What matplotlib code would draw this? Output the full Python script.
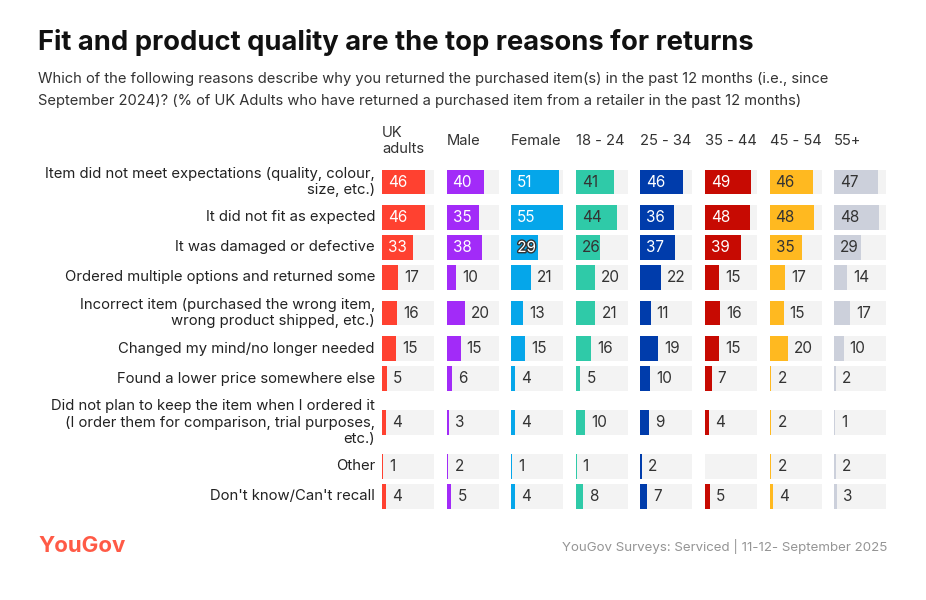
import matplotlib.pyplot as plt
import matplotlib.patheffects as pe
from matplotlib.transforms import offset_copy

plt.rcParams['font.family'] = ['Inter', 'DejaVu Sans']

# ---- data ----
groups = ['UK\nadults', 'Male', 'Female', '18 - 24', '25 - 34', '35 - 44', '45 - 54', '55+']
reasons = [
  'Item did not meet expectations (quality, colour,\nsize, etc.)',
  'It did not fit as expected',
  'It was damaged or defective',
  'Ordered multiple options and returned some',
  'Incorrect item (purchased the wrong item,\nwrong product shipped, etc.)',
  'Changed my mind/no longer needed',
  'Found a lower price somewhere else',
  'Did not plan to keep the item when I ordered it\n(I order them for comparison, trial purposes,\netc.)',
  'Other',
  "Don't know/Can't recall",
]
uk_adults = [46, 46, 33, 17, 16, 15, 5, 4, 1, 4]
male      = [40, 35, 38, 10, 20, 15, 6, 3, 2, 5]
female    = [51, 55, 29, 21, 13, 15, 4, 4, 1, 4]
age_18_24 = [41, 44, 26, 20, 21, 16, 5, 10, 1, 8]
age_25_34 = [46, 36, 37, 22, 11, 19, 10, 9, 2, 7]
age_35_44 = [49, 48, 39, 15, 16, 15, 7, 4, None, 5]
age_45_54 = [46, 48, 35, 17, 15, 20, 2, 2, 2, 4]
age_55    = [47, 48, 29, 14, 17, 10, 2, 1, 2, 3]
series = [uk_adults, male, female, age_18_24, age_25_34, age_35_44, age_45_54, age_55]

colors = ['#ff4130', '#a22bf8', '#05a6ea', '#2fcaa8', '#003cab', '#c70a02', '#ffb920', '#ccd0db']
inside_text = ['white', 'white', 'white', '#333333', 'white', 'white', '#333333', '#333333']

W, H = 926, 600
fig = plt.figure(figsize=(W / 100, H / 100), dpi=100)
fig.patch.set_facecolor('white')

# background axes in pixel units for the text
bg = fig.add_axes([0, 0, 1, 1])
bg.set_xlim(0, W)
bg.set_ylim(H, 0)
bg.axis('off')

# row layout: slot height grows with the number of label lines
slot = {1: 30, 2: 41, 3: 58}
lines = [r.count('\n') + 1 for r in reasons]
ys = [182.0]
for i in range(1, len(reasons)):
  ys.append(ys[-1] + (slot[lines[i - 1]] + slot[lines[i]]) / 2)

top_px, bot_px = 160, 520
col_x0, col_step, col_w = 382, 64.6, 52
xmax = 55.6
bar_h = 24.6

for j, vals in enumerate(series):
  x0 = col_x0 + j * col_step
  ax = fig.add_axes([x0 / W, 1 - bot_px / H, col_w / W, (bot_px - top_px) / H])
  ax.set_xlim(0, xmax)
  ax.set_ylim(bot_px, top_px)
  ax.axis('off')
  ax.barh(ys, [xmax] * len(ys), height=bar_h, color='#f3f3f3', left=0)
  for y, v in zip(ys, vals):
    if v is None:
      continue
    ax.barh(y, v, height=bar_h, color=colors[j])
    if v >= 25:
      t = ax.text(0, y, str(v), transform=offset_copy(ax.transData, fig, x=6, y=0, units='dots'),
                  ha='left', va='center', fontsize=11, color=inside_text[j])
      if j == 2 and v == 29:
        t.set_path_effects([pe.withStroke(linewidth=2, foreground='#333333')])
    else:
      ax.text(v, y, str(v), transform=offset_copy(ax.transData, fig, x=6, y=0, units='dots'),
              ha='left', va='center', fontsize=11, color='#333333')
  bg.text(x0, 141, groups[j], ha='left', va='center', fontsize=10.6, color='#333333',
          linespacing=1.2)

for y, r in zip(ys, reasons):
  bg.text(375, y, r, ha='right', va='center', fontsize=10.7, color='#222222', linespacing=1.2)

bg.text(38, 42, 'Fit and product quality are the top reasons for returns', ha='left', va='center',
        fontsize=19.7, fontweight='bold', color='#111111')
bg.text(38, 90, 'Which of the following reasons describe why you returned the purchased item(s) in the past 12 months (i.e., since\n'
        'September 2024)? (% of UK Adults who have returned a purchased item from a retailer in the past 12 months)',
        ha='left', va='center', fontsize=10.6, color='#333333', linespacing=1.7)

bg.text(38, 546, 'YouGov', ha='left', va='center', fontsize=16, fontweight='bold', color='#ff5a46')
bg.text(887, 546, 'YouGov Surveys: Serviced | 11-12- September 2025', ha='right', va='center',
        fontsize=9.6, color='#959595')

fig.savefig('out.png', dpi=100)
